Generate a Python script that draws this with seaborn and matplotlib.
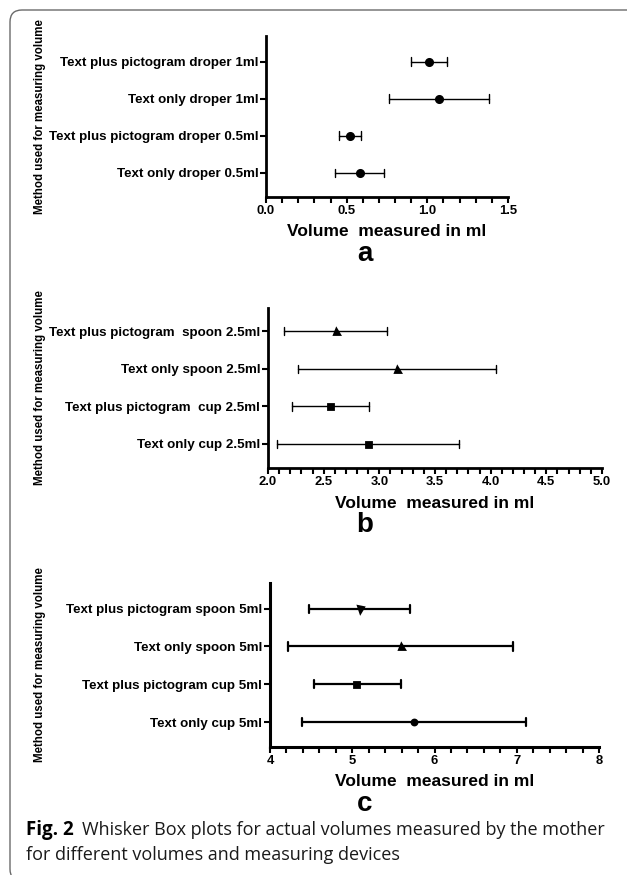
import matplotlib
matplotlib.use("Agg")
import matplotlib.pyplot as plt
from matplotlib.patches import FancyBboxPatch
from matplotlib.ticker import MultipleLocator, FormatStrFormatter
import pandas as pd
import seaborn as sns

W, H = 627, 875

# panel a: droper
labels_a = ["Text plus pictogram droper 1ml", "Text only droper 1ml",
            "Text plus pictogram droper 0.5ml", "Text only droper 0.5ml"]
low_a = [0.90, 0.76, 0.45, 0.43]
mid_a = [1.01, 1.07, 0.52, 0.58]
high_a = [1.12, 1.38, 0.59, 0.73]
markers_a = ["o", "o", "o", "o"]

# panel b: 2.5ml
labels_b = ["Text plus pictogram  spoon 2.5ml", "Text only spoon 2.5ml",
            "Text plus pictogram  cup 2.5ml", "Text only cup 2.5ml"]
low_b = [2.14, 2.27, 2.22, 2.08]
mid_b = [2.61, 3.16, 2.56, 2.90]
high_b = [3.07, 4.05, 2.91, 3.72]
markers_b = ["^", "^", "s", "s"]

# panel c: 5ml
labels_c = ["Text plus pictogram spoon 5ml", "Text only spoon 5ml",
            "Text plus pictogram cup 5ml", "Text only cup 5ml"]
low_c = [4.47, 4.22, 4.53, 4.39]
mid_c = [5.09, 5.59, 5.05, 5.75]
high_c = [5.70, 6.96, 5.59, 7.11]
markers_c = ["v", "^", "s", "o"]

xlabel = "Volume  measured in ml"
ylabel = "Method used for measuring volume"

sns.set_style("ticks")
plt.rcParams["font.family"] = ["Liberation Sans", "DejaVu Sans"]
plt.rcParams.update({"text.color": "black", "axes.edgecolor": "black",
                     "xtick.color": "black", "ytick.color": "black",
                     "axes.labelcolor": "black"})

fig = plt.figure(figsize=(W / 100, H / 100), dpi=100)


def panel(box, labels, lows, mids, highs, markers, xlim, major, minor, fmt,
          letter, lw, ms, spw, ylim):
    l, t, r, b = box
    ax = fig.add_axes([l / W, 1 - b / H, (r - l) / W, (b - t) / H])
    df = pd.DataFrame({"method": labels * 3, "volume": lows + mids + highs})
    sns.pointplot(data=df, x="volume", y="method", hue="method",
                  order=labels, hue_order=labels, estimator="median",
                  errorbar=("pi", 100), markers=markers,
                  palette=["black"] * 4, linestyle="none", capsize=0.22,
                  err_kws={"linewidth": lw}, markersize=ms, dodge=False,
                  legend=False, ax=ax)
    ax.set_xlim(*xlim)
    ax.set_ylim(*ylim)
    ax.xaxis.set_major_locator(MultipleLocator(major))
    ax.xaxis.set_minor_locator(MultipleLocator(minor))
    ax.xaxis.set_major_formatter(FormatStrFormatter(fmt))
    sns.despine(ax=ax)
    for s in ["left", "bottom"]:
        ax.spines[s].set_linewidth(spw)
    ax.tick_params(axis="y", length=4, width=1.5, pad=1.5, labelsize=9.6)
    ax.tick_params(axis="x", which="both", length=4, width=1.5, pad=2,
                   labelsize=9.4)
    for lab in ax.get_yticklabels() + ax.get_xticklabels():
        lab.set_fontweight("bold")
    ax.set_xlabel("")
    ax.set_ylabel("")
    cx = (l + r) / 2
    cy = (t + b) / 2
    fig.text(40 / W, 1 - cy / H, ylabel, rotation=90, ha="center",
             va="center", fontsize=8.3, fontweight="bold")
    fig.text(cx / W, 1 - (b + 35) / H, xlabel, ha="center", va="center",
             fontsize=12.5, fontweight="bold")
    fig.text(365 / W, 1 - (b + 57) / H, letter, ha="center", va="center",
             fontsize=20, fontweight="bold")
    return ax


panel((266, 36, 508, 197), labels_a, low_a, mid_a, high_a, markers_a,
      (0, 1.5), 0.5, 0.1, "%.1f", "a", 1.0, 4.5, 2.0, (3.66, -0.69))
panel((268, 308, 602, 468), labels_b, low_b, mid_b, high_b, markers_b,
      (2, 5), 0.5, 0.1, "%.1f", "b", 1.0, 3.6, 2.0, (3.64, -0.62))
panel((270, 583, 599, 747), labels_c, low_c, mid_c, high_c, markers_c,
      (4, 8), 1, 0.2, "%d", "c", 1.6, 3.6, 2.2, (3.66, -0.68))

# frame
frame = FancyBboxPatch((0.1, -0.06), 6.6, 8.71,
                       boxstyle="round,pad=0,rounding_size=0.12",
                       transform=fig.dpi_scale_trans, fill=False,
                       edgecolor="#6a6a6a", linewidth=1.0)
fig.patches.append(frame)

# caption
cap_font = ["Open Sans", "DejaVu Sans"]
t1 = fig.text(26 / W, 1 - 830 / H, "Fig. 2", fontsize=13.5,
              fontweight="bold", family=cap_font, va="center")
fig.canvas.draw()
bb = t1.get_window_extent()
fig.text((bb.x1 + 8) / W, 1 - 830 / H,
         "Whisker Box plots for actual volumes measured by the mother",
         fontsize=13.0, family=cap_font, va="center", color="#1a1a1a")
fig.text(26 / W, 1 - 855 / H, "for different volumes and measuring devices",
         fontsize=13.0, family=cap_font, va="center", color="#1a1a1a")

fig.savefig("out.png", dpi=100)
